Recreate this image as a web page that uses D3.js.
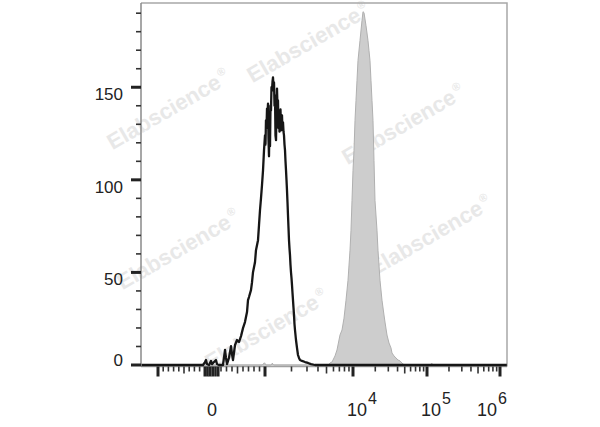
<!DOCTYPE html>
<html><head><meta charset="utf-8">
<script src="https://cdn.jsdelivr.net/npm/d3@7"></script>
<style>body{margin:0;background:#fff}svg{display:block}</style>
</head><body><svg id="c" width="600" height="427"></svg>
<script>
// ---- data ----
const yMajorTicks = [0, 50, 100, 150];
const yMinorTicks = [10,20,30,40,60,70,80,90,110,120,130,140,160,170,180,190];
const xMajorTicks = [-1000, 0, 1000, 1e4, 1e5, 1e6];
const xZeroTicks = [-100, -50, 50, 100, 150];
const xMinorTicks = [-900,-800,-700,-600,-500,-400,-300,-200,200,300,400,500,600,700,800,900,
  2000,3000,4000,5000,6000,7000,8000,9000,2e4,3e4,4e4,5e4,6e4,7e4,8e4,9e4,2e5,3e5,4e5,5e5,6e5,7e5,8e5,9e5];
const xLabelValues = [0, 1e4, 1e5, 1e6];
const xLabelExps = ["", "4", "5", "6"];

// black (control) histogram: [fluorescence, count]
const controlValues = [[-2120,0],[-135,0],[-96,1.6],[-77,2.7],[-58,0.5],[-19,0],[18,2.2],[36,0.5],[73,1.6],[109,2.7],[127,0.5],[164,0],[236,0],[273,8.1],[291,3.8],[309,0.5],[345,3.8],[382,10.2],[400,5.9],[418,2.7],[455,10.8],[491,13.5],[527,12.4],[564,15.6],[600,19.9],[636,23.2],[673,28.6],[691,35.0],[709,36.7],[745,40.4],[764,44.7],[782,50.1],[818,55.5],[836,62.0],[873,67.4],[891,75.5],[909,83.6],[927,90.0],[945,97.0],[964,105.1],[982,115.9],[1000,124.0],[1013,119.0],[1026,132.1],[1040,128.0],[1054,138.5],[1068,135.0],[1082,141.2],[1096,122.0],[1110,112.7],[1125,130.0],[1140,118.2],[1155,140.0],[1170,137.5],[1185,150.0],[1201,148.2],[1217,153.0],[1233,155.3],[1250,150.0],[1266,152.6],[1283,140.0],[1299,145.6],[1316,124.0],[1334,121.4],[1351,138.0],[1369,149.3],[1387,139.0],[1405,142.9],[1423,128.0],[1442,134.8],[1461,126.0],[1481,133.2],[1500,138.0],[1520,126.7],[1540,130.0],[1560,134.8],[1581,127.0],[1602,131.0],[1623,126.0],[1644,124.0],[1666,119.0],[1688,115.9],[1710,110.0],[1733,105.1],[1755,100.0],[1778,94.3],[1801,88.0],[1825,80.9],[1850,74.0],[1874,67.4],[1898,63.0],[1923,59.3],[1949,54.0],[1974,50.1],[2000,47.0],[2027,43.1],[2053,39.0],[2080,35.0],[2108,31.0],[2136,26.9],[2164,22.0],[2192,18.9],[2250,13.5],[2310,9.2],[2371,5.4],[2434,3.8],[2499,2.7],[2633,2.2],[2848,1.6],[3081,1.1],[3332,0.5],[3700,0],[1240000,0]];

// grey (stained) histogram
const stainedValues = [[-2120,0],[950,0],[990,1.2],[1030,0],[1180,0],[1210,1.0],[1250,0],[5197,0],[5479,1.1],[5772,1.6],[5926,2.7],[6245,4.9],[6579,8.1],[6932,13.5],[7117,16.2],[7499,18.9],[7902,25.3],[8327,35.0],[8775,45.8],[9246,62.0],[9490,72.8],[9742,88.9],[10000,105.1],[10316,115.9],[10642,132.1],[10978,142.9],[11325,153.6],[11683,164.4],[12433,175.2],[13231,186.0],[13650,190.8],[14081,190.3],[14985,183.3],[15947,175.2],[16451,169.8],[16970,164.4],[17507,153.6],[18060,142.9],[18631,132.1],[19220,110.5],[19828,88.9],[21101,72.8],[21768,62.0],[23166,45.8],[24653,35.0],[26235,27.0],[27065,23.2],[28801,16.2],[30651,11.9],[32620,9.2],[33651,6.5],[35810,4.9],[38113,3.8],[40560,2.7],[43170,2.2],[47400,0.5],[50440,0],[110000,0],[116000,1.0],[122000,0],[1240000,0]];

// ---- chart ----
const svg = d3.select("#c");
const L = 141, R = 507, T = 3, B = 365;
const FONT = "'Liberation Sans', Arial, sans-serif";

// biexponential-like display transform
function biex(v){
  if (v >= -1000 && v <= 1000) return v / 1000;
  if (v > 1000) return 1 + Math.log10(v / 1000);
  return -1 - Math.log10(-v / 1000);
}
const xs = d3.scaleLinear().domain([-1, 0, 1, 2, 3, 4]).range([158, 210, 265, 353, 427, 500]);
const X = v => xs(biex(v));
const Y = d3.scaleLinear().domain([0, 195.5]).range([B, T]);

// watermarks
const wm = [[172,116],[312,49],[407,131],[182,256],[434,242],[270,336]];
wm.forEach(([cx, cy]) => {
  const g = svg.append("g").attr("transform", `translate(${cx},${cy}) rotate(-30)`);
  const t = g.append("text").attr("text-anchor", "middle").attr("font-family", FONT)
    .attr("font-weight", "bold").attr("font-size", 22).attr("fill", "#e8e8e8");
  t.append("tspan").text("Elabscience");
  t.append("tspan").attr("font-size", 11).attr("dx", 2).attr("dy", -10).text("®");
});

// stained (grey filled)
const area = d3.area().x(d => X(d[0])).y0(Y(0)).y1(d => Y(d[1]));
svg.append("path").datum(stainedValues).attr("d", area)
  .attr("fill", "#cdcdcd").attr("stroke", "#b0b0b0").attr("stroke-width", 1);

// frame
svg.append("path").attr("d", `M${L},${T}H${R}V${B + 1.5}`).attr("fill", "none")
  .attr("stroke", "#a8a8a8").attr("stroke-width", 1.5);
svg.append("line").attr("x1", L).attr("x2", R).attr("y1", B + 1.5).attr("y2", B + 1.5)
  .attr("stroke", "#a0a0a0").attr("stroke-width", 1.5);

// control (black line)
const line = d3.line().x(d => X(d[0])).y(d => Y(d[1]));
svg.append("path").datum(controlValues).attr("d", line)
  .attr("fill", "none").attr("stroke", "#161616").attr("stroke-width", 2.3).attr("stroke-linejoin", "round");

// y axis
svg.append("line").attr("x1", L).attr("x2", L).attr("y1", T).attr("y2", B + 1)
  .attr("stroke", "#8a8a8a").attr("stroke-width", 1.5);
svg.selectAll(".ymin").data(yMinorTicks).enter().append("line")
  .attr("x1", L - 5).attr("x2", L).attr("y1", d => Y(d)).attr("y2", d => Y(d))
  .attr("stroke", "#333").attr("stroke-width", 1.6);
svg.selectAll(".ymaj").data(yMajorTicks).enter().append("line")
  .attr("x1", L - 10).attr("x2", L).attr("y1", d => Y(d)).attr("y2", d => Y(d))
  .attr("stroke", "#222").attr("stroke-width", 3);
svg.selectAll(".ylab").data(yMajorTicks).enter().append("text")
  .attr("x", 123).attr("y", d => Y(d) + (d === 0 ? 1 : 13))
  .attr("text-anchor", "end").attr("font-family", FONT).attr("font-size", 17).attr("fill", "#222")
  .text(d => d);

// x axis ticks
const ty = B + 1.5;
svg.selectAll(".xmin").data(xMinorTicks).enter().append("line")
  .attr("x1", d => X(d)).attr("x2", d => X(d)).attr("y1", ty)
  .attr("y2", d => ty + (String(Math.abs(d))[0] === "5" ? 7 : 5))
  .attr("stroke", "#333").attr("stroke-width", 1.6);
svg.selectAll(".xzero").data(xZeroTicks).enter().append("line")
  .attr("x1", d => X(d)).attr("x2", d => X(d)).attr("y1", ty).attr("y2", ty + 10)
  .attr("stroke", "#222").attr("stroke-width", 2.6);
svg.selectAll(".xmaj").data(xMajorTicks).enter().append("line")
  .attr("x1", d => X(d)).attr("x2", d => X(d)).attr("y1", ty).attr("y2", ty + 10)
  .attr("stroke", "#222").attr("stroke-width", 3);

// x labels
xLabelValues.forEach((v, i) => {
  const exp = xLabelExps[i];
  const t = svg.append("text").attr("font-family", FONT).attr("font-size", 18).attr("fill", "#222").attr("y", 416);
  if (!exp) {
    t.attr("x", X(v) + 2).attr("text-anchor", "middle").text("0");
  } else {
    const x0 = Math.min(X(v) - 6, 477);
    t.attr("x", x0);
    t.append("tspan").text("10");
    t.append("tspan").attr("font-size", 16).attr("dx", 1).attr("dy", -12).text(exp);
  }
});
</script></body></html>
